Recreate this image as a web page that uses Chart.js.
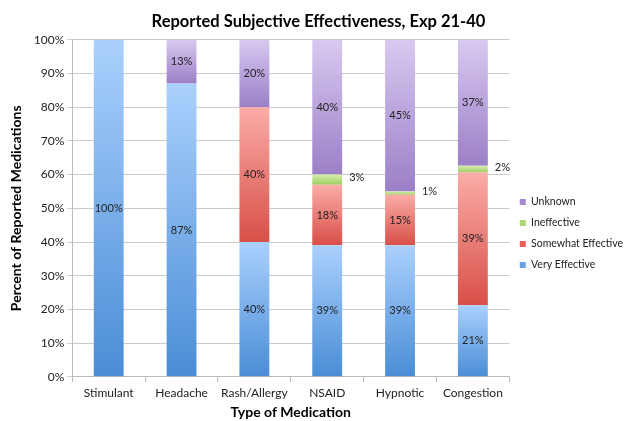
<!DOCTYPE html>
<html>
<head>
<meta charset="utf-8">
<script src="https://cdn.jsdelivr.net/npm/chart.js@4/dist/chart.umd.min.js"></script>
<style>
  html, body { margin: 0; background: #fff; }
  #wrap { width: 633px; height: 421px; }
</style>
</head>
<body>
<div id="wrap"><canvas id="chart"></canvas></div>
<script>
// values (percent of reported medications)
const categories = ['Stimulant', 'Headache', 'Rash/Allergy', 'NSAID', 'Hypnotic', 'Congestion'];
const veryEffective = [100, 87, 40, 39, 39, 21];
const somewhatEffective = [0, 0, 40, 18, 15, 39];
const ineffective = [0, 0, 0, 3, 1, 2];
const unknown = [0, 13, 20, 40, 45, 37];
const seriesNames = ['Very Effective', 'Somewhat Effective', 'Ineffective', 'Unknown'];

// top / bottom / legend colours for each series
const palette = [
  ['#aad0fd', '#4a8dd6', '#5b9be0'],
  ['#fbaca7', '#d84f48', '#e8605a'],
  ['#d6eeae', '#9fcc62', '#aed476'],
  ['#d8c9f1', '#9b7fc7', '#a58ad0']
];

const raw = [veryEffective, somewhatEffective, ineffective, unknown];
// 100% stacked: scale each column to its total
const totals = categories.map((_, i) => raw.reduce((s, r) => s + r[i], 0));
const pct = raw.map(r => r.map((v, i) => v / totals[i] * 100));

Chart.defaults.font.family = 'Lato, "Liberation Sans", sans-serif';
Chart.defaults.color = '#222';

const segmentFill = (idx) => (ctx) => {
  const colors = palette[idx];
  const chart = ctx.chart;
  if (ctx.type !== 'data' || !chart.chartArea || !chart.scales.y) return colors[2];
  const i = ctx.dataIndex;
  let base = 0;
  for (let d = 0; d < idx; d++) base += pct[d][i];
  const top = base + pct[idx][i];
  const y0 = chart.scales.y.getPixelForValue(top);
  const y1 = chart.scales.y.getPixelForValue(base);
  if (!isFinite(y0) || !isFinite(y1) || y0 === y1) return colors[2];
  const g = chart.ctx.createLinearGradient(0, y0, 0, y1);
  g.addColorStop(0, colors[0]);
  g.addColorStop(1, colors[1]);
  return g;
};

const valueLabels = {
  id: 'valueLabels',
  afterDatasetsDraw(chart) {
    const c = chart.ctx;
    c.save();
    c.font = '11px Lato, "Liberation Sans", sans-serif';
    c.fillStyle = '#222';
    c.textBaseline = 'middle';
    chart.data.datasets.forEach((ds, di) => {
      chart.getDatasetMeta(di).data.forEach((bar, i) => {
        const v = pct[di][i];
        if (!v) return;
        const txt = Math.round(v) + '%';
        const mid = (bar.y + bar.base) / 2;
        if (di === 2) {
          c.textAlign = 'left';
          c.fillText(txt, bar.x + bar.width / 2 + 7, mid - 2);
        } else {
          c.textAlign = 'center';
          c.fillText(txt, bar.x, mid);
        }
      });
    });
    c.restore();
  }
};

new Chart(document.getElementById('chart'), {
  type: 'bar',
  data: {
    labels: categories,
    datasets: pct.map((d, idx) => ({
      label: seriesNames[idx],
      data: d,
      backgroundColor: segmentFill(idx),
      borderWidth: 0,
      barPercentage: 0.41,
      categoryPercentage: 1.0
    }))
  },
  options: {
    responsive: true,
    maintainAspectRatio: false,
    animation: false,
    layout: { padding: { left: 4, right: 0, bottom: 0 } },
    plugins: {
      title: {
        display: true,
        text: 'Reported Subjective Effectiveness, Exp 21-40',
        color: '#000',
        font: { size: 16.5, weight: 'bold' },
        padding: { top: 12, bottom: 8 }
      },
      legend: {
        position: 'right',
        reverse: true,
        // blank title only pushes the legend block down a little
        title: { display: true, text: ' ', font: { size: 10 }, padding: { top: 17, bottom: 17 } },
        labels: {
          boxWidth: 6,
          boxHeight: 6,
          padding: 10.5,
          font: { size: 10.5 },
          color: '#222'
        }
      },
      tooltip: { enabled: false }
    },
    scales: {
      x: {
        stacked: true,
        grid: { drawOnChartArea: false, offset: true, tickLength: 5, color: '#bbb' },
        border: { color: '#bbb' },
        ticks: { font: { size: 12 }, color: '#222', padding: 4, maxRotation: 0, autoSkip: false },
        title: {
          display: true,
          text: 'Type of Medication',
          color: '#000',
          font: { size: 14, weight: 'bold' },
          padding: { top: 0, bottom: 0 }
        }
      },
      y: {
        stacked: true,
        min: 0,
        max: 100,
        grid: { color: '#cacaca', tickLength: 5 },
        border: { color: '#bbb' },
        ticks: { stepSize: 10, font: { size: 12 }, color: '#222', callback: v => v + '%' },
        title: {
          display: true,
          text: 'Percent of Reported Medications',
          color: '#000',
          font: { size: 14, weight: 'bold' },
          padding: { bottom: 6 }
        }
      }
    }
  },
  plugins: [valueLabels]
});
</script>
</body>
</html>
